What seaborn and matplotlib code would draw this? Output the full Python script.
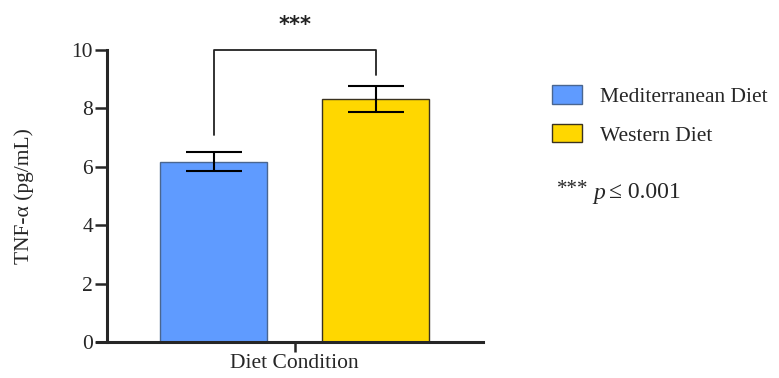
import numpy as np
import pandas as pd
import matplotlib
matplotlib.use("Agg")
import matplotlib.pyplot as plt
import seaborn as sns

groups = ["Mediterranean Diet", "Western Diet"]
means = [6.18, 8.31]
errors = [0.33, 0.44]
category = ["Diet Condition", "Diet Condition"]
colors = ["#5F9BFF", "#FFD700"]
edgecolors = ["#4A6690", "#3A3220"]
yticks = [0, 2, 4, 6, 8, 10]

sns.set_theme(style="ticks")
plt.rcParams["font.family"] = ["Liberation Serif", "DejaVu Serif"]

df = pd.DataFrame({"cond": category, "group": groups, "val": means})

W, H = 779, 378
fig = plt.figure(figsize=(W / 100, H / 100), dpi=100)
ax = fig.add_axes([107 / W, 1 - 342 / H, (483 - 107) / W, (342 - 50) / H])

sns.barplot(data=df, x="cond", y="val", hue="group", palette=colors,
            width=0.8, gap=0.34, errorbar=None, ax=ax, legend=True,
            linewidth=1.0, saturation=1)

bars = [p for p in ax.patches if p.get_height() > 0][:2]
centers = []
for bar, ec, m, e in zip(bars, edgecolors, means, errors):
    bar.set_edgecolor(ec)
    cx = bar.get_x() + bar.get_width() / 2
    centers.append(cx)
    ax.errorbar(cx, m, yerr=e, color="black", capsize=20, elinewidth=1.5,
                capthick=1.5, fmt="none", clip_on=False, zorder=5)

ax.set_xlim(-0.463, 0.465)
ax.set_ylim(0, 10)
ax.set_yticks(yticks)
ax.set_yticklabels([str(t) for t in yticks], fontsize=15.5)
ax.tick_params(axis="y", length=9, width=1.8, pad=1)
ax.tick_params(axis="x", length=7, width=1.8, labelsize=15.5, pad=2)
ax.set_xlabel("")
ax.set_ylabel("TNF-α (pg/mL)", fontsize=15.5, labelpad=27)
sns.despine(ax=ax)
for s in ["left", "bottom"]:
    ax.spines[s].set_linewidth(2.2)
ax.spines["bottom"].set_bounds(-0.488, 0.465)

# significance bracket
ax.plot([centers[0], centers[0], centers[1], centers[1]],
        [7.1, 10.0, 10.0, 9.15], color="#222222", lw=1.3, clip_on=False)
ax.text((centers[0] + centers[1]) / 2, 10.85, "***", ha="center", va="center",
        fontsize=15, family="DejaVu Sans", weight="bold", color="#222222")

leg = ax.legend(loc="upper left", bbox_to_anchor=(552 / W, 1 - 85 / H),
                bbox_transform=fig.transFigure, frameon=False, fontsize=15.5,
                handlelength=1.4, handleheight=0.95, labelspacing=0.8,
                handletextpad=0.85, borderaxespad=0, borderpad=0)
for h, ec in zip(leg.legend_handles, edgecolors):
    h.set_edgecolor(ec)

fig.text(557 / W, 1 - 190 / H, "***", fontsize=15, va="center", ha="left")
fig.text(593 / W, 1 - 193 / H, "p", fontsize=17, style="italic", va="center", ha="left")
fig.text(609 / W, 1 - 193 / H, "≤ 0.001", fontsize=17, va="center", ha="left")

fig.savefig("out.png", dpi=100)
